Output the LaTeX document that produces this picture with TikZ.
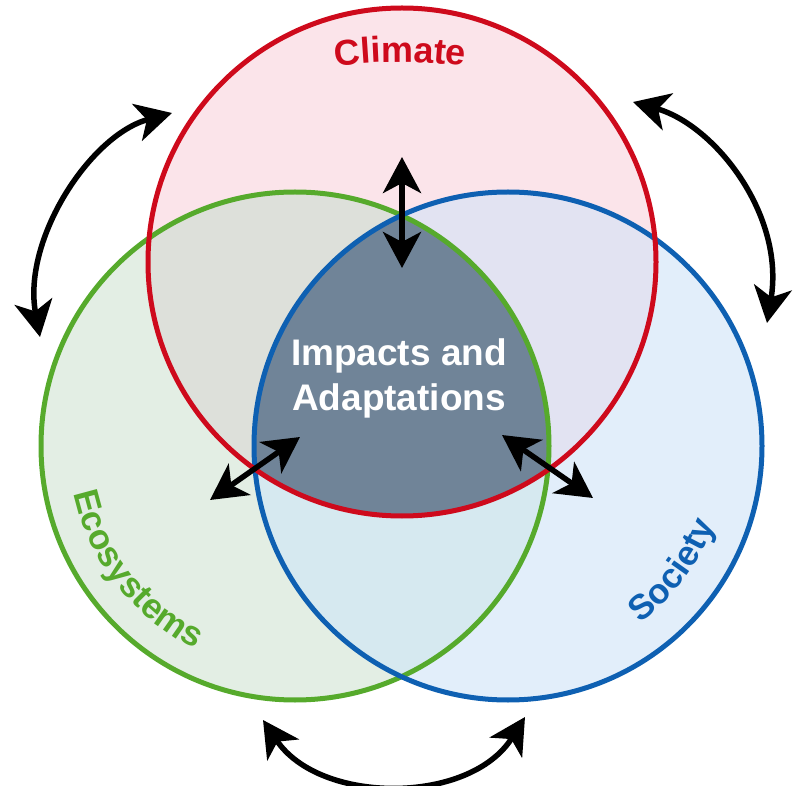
\documentclass[tikz,border=0pt]{standalone}
\usepackage{fontspec}
\setmainfont{Liberation Sans}
\usetikzlibrary{arrows.meta,decorations.text,calc}
\definecolor{climred}{RGB}{206,10,28}
\definecolor{ecogreen}{RGB}{86,170,44}
\definecolor{socblue}{RGB}{14,96,178}
\definecolor{climfill}{RGB}{251,228,234}
\definecolor{ecofill}{RGB}{227,238,228}
\definecolor{socfill}{RGB}{226,238,250}
\definecolor{cefill}{RGB}{221,224,218}
\definecolor{csfill}{RGB}{226,227,242}
\definecolor{esfill}{RGB}{214,233,240}
\definecolor{midfill}{RGB}{112,132,152}
\tikzset{
  >={Stealth[length=36pt,width=38pt,inset=10pt]}
}

\begin{document}
\begin{tikzpicture}[x=1pt,y=-1pt,
    ring/.style={circle,line width=5pt,minimum size=508pt,inner sep=0pt},
    link/.style={<->,line width=5.5pt}]
        \useasboundingbox (0,0) rectangle (796,786);
        \node (C) at (402,262) [ring] {};
        \node (E) at (295,446) [ring] {};
        \node (S) at (508,446) [ring] {};

        % region fills
        \fill[climfill] (C.center) circle (254);
        \fill[ecofill] (E.center) circle (254);
        \fill[socfill] (S.center) circle (254);
        \begin{scope}
            \clip (E.center) circle (254);
            \fill[esfill] (S.center) circle (254);
        \end{scope}
        \begin{scope}
            \clip (C.center) circle (254);
            \fill[cefill] (E.center) circle (254);
            \fill[csfill] (S.center) circle (254);
            \clip (E.center) circle (254);
            \fill[midfill] (S.center) circle (254);
        \end{scope}

        \draw[ecogreen,line width=5pt] (E.center) circle (254);
        \draw[socblue,line width=5pt] (S.center) circle (254);
        \draw[climred,line width=5pt] (C.center) circle (254);

        % labels
        \path[decorate,decoration={text along path,text align=center,
            text={|\fontsize{36}{36}\selectfont\bfseries\color{climred}|Climate}}]
            ($(400,562)+(250:500)$) arc[start angle=250,end angle=290,radius=500];
        \path[decorate,decoration={text along path,text align=center,
            text={|\fontsize{35}{35}\selectfont\bfseries\color{ecogreen}|Ecosystems}}]
            ($(E.center)+(190:226)$) arc[start angle=190,end angle=94,radius=226];
        \path[decorate,decoration={text along path,text align=center,
            text={|\fontsize{35}{35}\selectfont\bfseries\color{socblue}|Society}}]
            ($(S.center)+(80:221)$) arc[start angle=80,end angle=-6,radius=221];
        \node (IA) at (399,378) [align=center,text=white,font=\bfseries\fontsize{37}{45}\selectfont] {Impacts and\\Adaptations};

        % outer arrows
        \coordinate (L1) at (40,337);
        \coordinate (L2) at (172,113);
        \coordinate (R1) at (633,102);
        \coordinate (R2) at (767,323);
        \coordinate (B1) at (263,720);
        \coordinate (B2) at (525,717);
        \draw[link] (L1) .. controls (22,240) and (90,135) .. (L2);
        \draw[link] (R1) .. controls (715,125) and (785,215) .. (R2);
        \draw[link] (B1) .. controls (320,805) and (470,805) .. (B2);

        % inner arrows
        \coordinate (U1) at (402,157);
        \coordinate (U2) at (402,268);
        \coordinate (W1) at (210,500);
        \coordinate (W2) at (300,437);
        \coordinate (Z1) at (502,435);
        \coordinate (Z2) at (593,498);
        \draw[link] (U1) -- (U2);
        \draw[link] (W1) -- (W2);
        \draw[link] (Z1) -- (Z2);
\end{tikzpicture}
\end{document}
